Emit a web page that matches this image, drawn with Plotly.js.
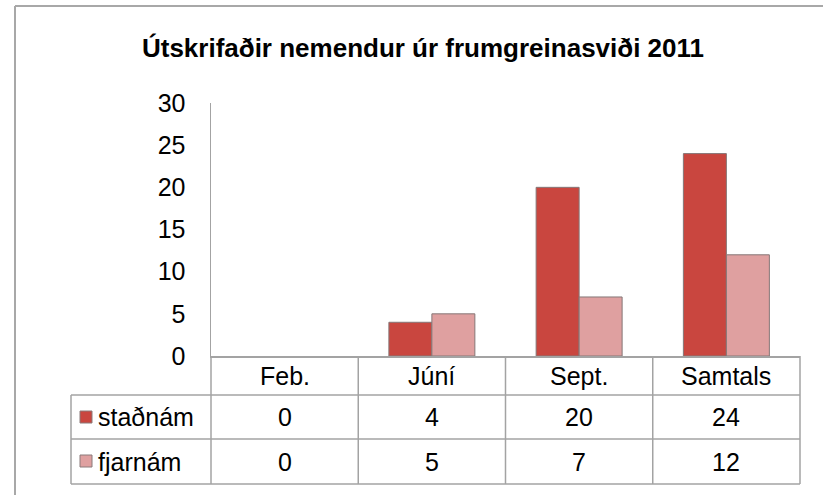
<!DOCTYPE html>
<html>
<head>
<meta charset="utf-8">
<script src="https://cdn.plot.ly/plotly-3.0.1.min.js"></script>
<style>html,body{margin:0;padding:0;background:#fff;}#chart{width:823px;height:495px;}</style>
</head>
<body>
<div id="chart"></div>
<script>
const categories = ['Feb.', 'Júní', 'Sept.', 'Samtals'];
const seriesNames = ['staðnám', 'fjarnám'];
const stadnam = [0, 4, 20, 24];
const fjarnam = [0, 5, 7, 12];
const yTicks = [0, 5, 10, 15, 20, 25, 30];
const titleText = 'Útskrifaðir nemendur úr frumgreinasviði 2011';

const colors = ['#C9463F', '#DFA0A0'];
const FONT = 'Arial, "Liberation Sans", sans-serif';
const W = 823, H = 495;
const L = 211, R = 800, T = 103, B = 356;
const gridColor = '#A3A3A3';
const px2x = x => (x - L) / (R - L);
const px2y = y => (B - y) / (B - T);

const series = [stadnam, fjarnam];
const traces = series.map((vals, i) => ({
  type: 'bar', x: categories, y: vals, name: seriesNames[i],
  marker: {color: colors[i], line: {color: '#857777', width: vals.map(v => v === 0 ? 0 : 1)}},
  hoverinfo: 'x+y+name'
}));

const rowY = [px2y(356), px2y(395), px2y(439), px2y(484)];
const legLeft = px2x(71);
const shapes = [];
const ln = (x0, y0, x1, y1, w, c) => shapes.push({type: 'line', xref: 'paper', yref: 'paper', x0, y0, x1, y1, line: {color: c || gridColor, width: w || 1.5}});
// outer chart border
ln(px2x(15), px2y(6), px2x(15), px2y(500), 2, '#A8A8A8');
ln(px2x(15), px2y(6), px2x(830), px2y(6), 2, '#A8A8A8');
// table horizontal lines
ln(0, rowY[1], 1, rowY[1]);
ln(legLeft, rowY[1], 0, rowY[1]);
ln(legLeft, rowY[2], 1, rowY[2]);
ln(legLeft, rowY[3], 1, rowY[3]);
// table vertical lines
ln(legLeft, rowY[1], legLeft, rowY[3]);
ln(0, rowY[0], 0, rowY[3]);
for (let i = 1; i <= categories.length; i++) {
  ln(i / categories.length, rowY[0], i / categories.length, rowY[3]);
}
// legend keys
seriesNames.forEach((n, i) => {
  const yc = (356 + 39 + 44 * i + 22);
  shapes.push({type: 'rect', xref: 'paper', yref: 'paper',
    x0: px2x(80), x1: px2x(92), y0: px2y(yc + 6), y1: px2y(yc - 6),
    fillcolor: colors[i], line: {color: '#8A7A7A', width: 1}});
});

const annotations = [];
const fnt = {family: FONT, size: 25, color: '#000'};
categories.forEach((c, j) => {
  annotations.push({xref: 'x', yref: 'paper', x: c, y: (rowY[0] + rowY[1]) / 2, text: c, showarrow: false, font: fnt, xanchor: 'center', yanchor: 'middle'});
  series.forEach((vals, i) => {
    annotations.push({xref: 'x', yref: 'paper', x: c, y: (rowY[i + 1] + rowY[i + 2]) / 2, text: String(vals[j]), showarrow: false, font: fnt, xanchor: 'center', yanchor: 'middle'});
  });
});
seriesNames.forEach((n, i) => {
  annotations.push({xref: 'paper', yref: 'paper', x: px2x(96), y: (rowY[i + 1] + rowY[i + 2]) / 2, text: n, showarrow: false, font: fnt, xanchor: 'left', yanchor: 'middle'});
});

const layout = {
  width: W, height: H,
  margin: {l: L, r: W - R, t: T, b: H - B, pad: 0},
  paper_bgcolor: '#fff', plot_bgcolor: '#fff',
  showlegend: false,
  barmode: 'group', bargap: 0.416, bargroupgap: 0,
  title: {text: '<b>' + titleText + '</b>', font: {family: FONT, size: 26, color: '#000'},
    x: 423 / W, xref: 'container', xanchor: 'center', y: 1 - 48 / H, yref: 'container', yanchor: 'middle'},
  xaxis: {type: 'category', range: [-0.5, categories.length - 0.5], showticklabels: false, ticks: '',
    showline: true, linecolor: gridColor, linewidth: 1.5, showgrid: false, zeroline: false, fixedrange: true},
  yaxis: {range: [0, 30], tickvals: yTicks, ticktext: yTicks.map(String), ticks: '', showgrid: false, zeroline: false,
    showline: true, linecolor: gridColor, linewidth: 1.5, ticklabelstandoff: 19,
    tickfont: {family: FONT, size: 25, color: '#000'}, fixedrange: true},
  shapes, annotations
};

Plotly.newPlot('chart', traces, layout, {displayModeBar: false, staticPlot: true});
</script>
</body>
</html>
